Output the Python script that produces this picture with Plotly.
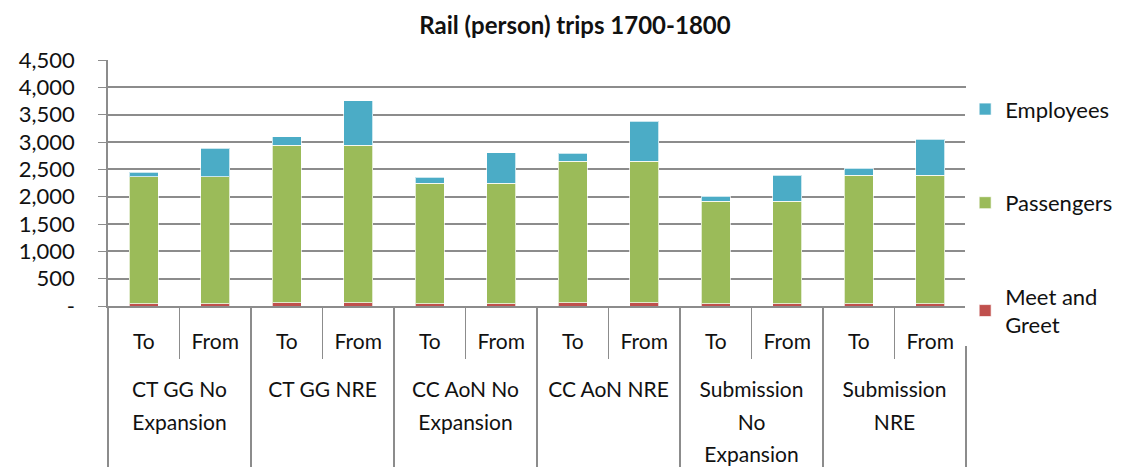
import plotly.graph_objects as go

groups = ["CT GG No<br>Expansion", "CT GG NRE", "CC AoN No<br>Expansion",
          "CC AoN NRE", "Submission<br>No<br>Expansion", "Submission<br>NRE"]
directions = ["To", "From"]

meet_greet = [45, 45, 60, 60, 40, 40, 55, 55, 40, 40, 45, 45]
passengers = [2315, 2315, 2880, 2880, 2205, 2205, 2590, 2590, 1875, 1875, 2345, 2345]
employees = [90, 525, 158, 817, 110, 561, 146, 737, 97, 475, 134, 659]

y_ticks = [0, 500, 1000, 1500, 2000, 2500, 3000, 3500, 4000, 4500]
y_labels = ["-", "500", "1,000", "1,500", "2,000", "2,500", "3,000", "3,500", "4,000", "4,500"]


def small(s):
    # smaller glyphs, but line spacing of the bigger base font
    return "<br>".join('<span style="font-size:21px">%s</span>' % p for p in s.split("<br>"))


# two-level category axis: scenario / direction (empty first line pushes groups down)
x = [["<br>" + small(g) for g in groups for d in directions],
     [small(d) for g in groups for d in directions]]

edge = dict(color="rgba(255,255,255,0.7)", width=1)
fig = go.Figure()
fig.add_trace(go.Bar(x=x, y=meet_greet, name="Meet and<br>Greet", legendgroup="m",
                     legendrank=3, marker=dict(color="#C0504D", line=edge)))
fig.add_trace(go.Bar(x=x, y=passengers, name="Passengers", legendgroup="p",
                     legendrank=2, marker=dict(color="#9BBB59", line=edge)))
fig.add_trace(go.Bar(x=x, y=employees, name="Employees", legendgroup="e",
                     legendrank=1, marker=dict(color="#4BACC6", line=edge)))

# page body has an 8px margin, so the figure is 8px smaller than the window
fig.update_layout(
    barmode="stack",
    bargap=0.6,
    width=1134, height=465,
    margin=dict(l=100, r=176, t=52, b=167),
    paper_bgcolor="white", plot_bgcolor="white",
    font=dict(family="Lato", size=20, color="#111111"),
    title=dict(text="<b>Rail (person) trips 1700-1800</b>", x=0.5, xref="container",
               y=0.963, yanchor="middle", font=dict(size=24)),
    legend=dict(x=0.999, y=0.885, yanchor="top", traceorder="grouped",
                tracegroupgap=62, font=dict(size=22), maxheight=440),
    showlegend=True,
)
fig.update_yaxes(range=[0, 4500], tickvals=y_ticks, ticktext=y_labels,
                 showgrid=True, gridcolor="#8c8c8c", gridwidth=1.5,
                 showline=True, linecolor="#8c8c8c", linewidth=1.5,
                 ticks="outside", ticklen=8, tickcolor="#8c8c8c", zeroline=False,
                 tickfont=dict(size=22), ticklabelstandoff=19, automargin=False)
fig.update_xaxes(showline=True, linecolor="#8c8c8c", linewidth=1.5,
                 ticks="outside", ticklen=51, tickcolor="#8c8c8c",
                 tickfont=dict(size=25), automargin=False, ticklabelstandoff=11,
                 dividercolor="#8c8c8c", dividerwidth=1.5)

fig.write_html("out.html")
